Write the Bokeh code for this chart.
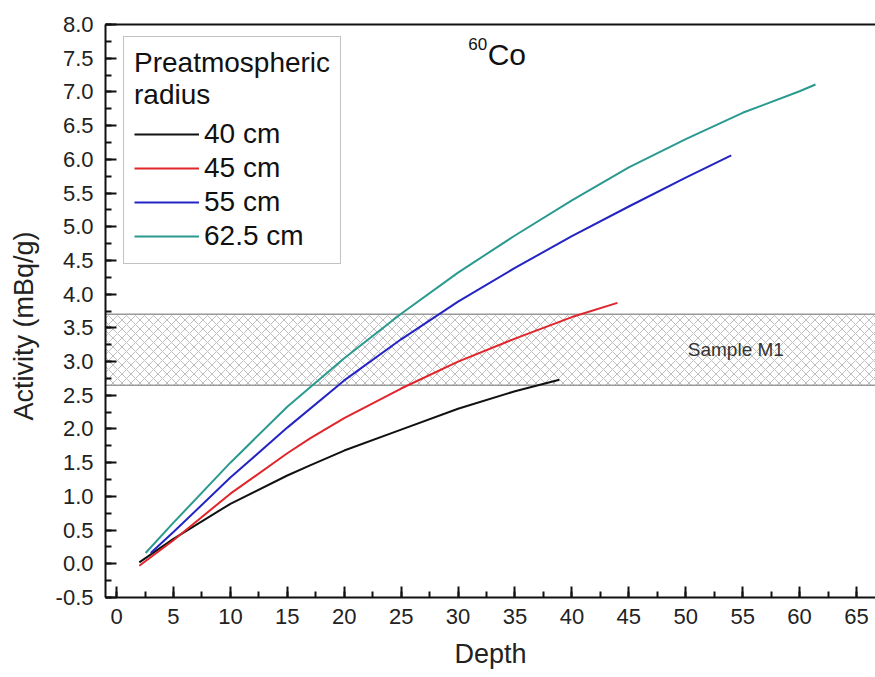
from bokeh.plotting import figure
from bokeh.models import (Range1d, SingleIntervalTicker, NumeralTickFormatter, Legend,
                          LegendItem, BoxAnnotation, Span, Label, LinearAxis, FixedTicker)
from bokeh.embed import file_html
from bokeh.resources import INLINE

# ---- data ----
depth_40 = [2.0, 5, 10, 15, 17, 20, 25, 30, 35, 38.9]
act_40 = [0.02, 0.37, 0.89, 1.31, 1.46, 1.68, 1.99, 2.30, 2.56, 2.73]

depth_45 = [2.0, 5, 10, 15, 17, 20, 25, 30, 35, 40, 44.0]
act_45 = [-0.03, 0.35, 1.04, 1.64, 1.86, 2.16, 2.60, 3.00, 3.34, 3.66, 3.87]

depth_55 = [3.0, 5, 10, 15, 20, 25, 30, 35, 40, 45, 50, 54.0]
act_55 = [0.16, 0.47, 1.28, 2.02, 2.72, 3.33, 3.89, 4.39, 4.86, 5.30, 5.73, 6.06]

depth_625 = [2.55, 5, 10, 15, 20, 25, 30, 35, 40, 45, 50, 55, 60, 61.4]
act_625 = [0.16, 0.61, 1.50, 2.33, 3.05, 3.71, 4.32, 4.87, 5.39, 5.88, 6.30, 6.69, 7.01, 7.11]

series_labels = ["40 cm", "45 cm", "55 cm", "62.5 cm"]
series_colors = ["#111111", "#e0262b", "#2424c4", "#2a9a90"]

sample_band = [2.65, 3.70]   # Sample M1 activity range
sample_label = "Sample M1"

FONT = "Liberation Sans"

p = figure(width=875, height=677, output_backend="svg", toolbar_location=None,
           x_range=Range1d(-0.97, 66.67), y_range=Range1d(-0.5, 8.0),
           min_border_left=105, min_border_right=0, min_border_top=24, min_border_bottom=80)
p.outline_line_color = None
p.grid.visible = False
p.background_fill_color = "white"
p.border_fill_color = "white"

# axes
p.xaxis.ticker = SingleIntervalTicker(interval=5, num_minor_ticks=2)
p.yaxis.ticker = SingleIntervalTicker(interval=0.5, num_minor_ticks=2)
p.yaxis.formatter = NumeralTickFormatter(format="0.0")
for ax in (p.xaxis[0], p.yaxis[0]):
    ax.axis_line_width = 2
    ax.axis_line_color = "#111111"
    ax.major_tick_in = 11
    ax.major_tick_out = 0
    ax.minor_tick_in = 6
    ax.minor_tick_out = 0
    ax.major_tick_line_width = 2
    ax.minor_tick_line_width = 2
    ax.major_tick_line_color = "#111111"
    ax.minor_tick_line_color = "#111111"
    ax.major_label_text_font = FONT
    ax.major_label_text_font_size = "22px"
    ax.major_label_text_color = "#222222"
    ax.axis_label_text_font = FONT
    ax.axis_label_text_font_size = "27px"
    ax.axis_label_text_font_style = "normal"
    ax.axis_label_text_color = "#222222"
p.xaxis.axis_label = "Depth"
p.yaxis.axis_label = "Activity (mBq/g)" + "\u00a0" * 4
p.xaxis.major_label_standoff = 11
p.yaxis.major_label_standoff = 12
p.xaxis.axis_label_standoff = 12
p.yaxis.axis_label_standoff = 14

# top frame line
top_axis = LinearAxis(ticker=FixedTicker(ticks=[]), axis_line_width=2, axis_line_color="#111111",
                      major_tick_line_color=None, minor_tick_line_color=None)
p.add_layout(top_axis, "above")

# sample band
band = BoxAnnotation(bottom=sample_band[0], top=sample_band[1], fill_color="white", fill_alpha=0.0,
                     line_color=None, hatch_pattern="diagonal_cross", hatch_color="#b8b8b8",
                     hatch_scale=9, hatch_weight=0.9, hatch_alpha=1.0, level="underlay")
p.add_layout(band)
for v in sample_band:
    p.add_layout(Span(location=v, dimension="width", line_color="#999999", line_width=1.5,
                      level="underlay"))
p.add_layout(Label(x=54.4, y=(sample_band[0] + sample_band[1]) / 2, text=sample_label,
                   text_font=FONT, text_font_size="19px", text_color="#333333",
                   text_align="center", text_baseline="middle"))

# curves
renderers = []
for xs, ys, c in [(depth_40, act_40, series_colors[0]), (depth_45, act_45, series_colors[1]),
                  (depth_55, act_55, series_colors[2]), (depth_625, act_625, series_colors[3])]:
    renderers.append(p.line(xs, ys, line_color=c, line_width=2, line_join="round"))

# 60Co label
p.add_layout(Label(x=32.6, y=7.555, text="Co", text_font=FONT, text_font_size="30px",
                   text_color="#111111", text_baseline="middle"))
p.add_layout(Label(x=30.9, y=7.80, text="60", text_font=FONT, text_font_size="17px",
                   text_color="#111111", text_baseline="top"))

legend = Legend(items=[LegendItem(label=l, renderers=[r]) for l, r in zip(series_labels, renderers)],
                title="Preatmospheric\nradius", location=(18, 333),
                title_text_font=FONT, title_text_font_size="28px", title_text_font_style="normal",
                title_text_color="#111111", title_standoff=6,
                label_text_font=FONT, label_text_font_size="28px", label_text_color="#111111",
                glyph_width=65, glyph_height=34, label_height=34, label_standoff=5, spacing=0,
                padding=10, margin=0, border_line_color="#888888", border_line_width=1.5,
                background_fill_color="white", background_fill_alpha=1.0)
p.add_layout(legend, "center")

open("out.html", "w").write(file_html(p, INLINE))
